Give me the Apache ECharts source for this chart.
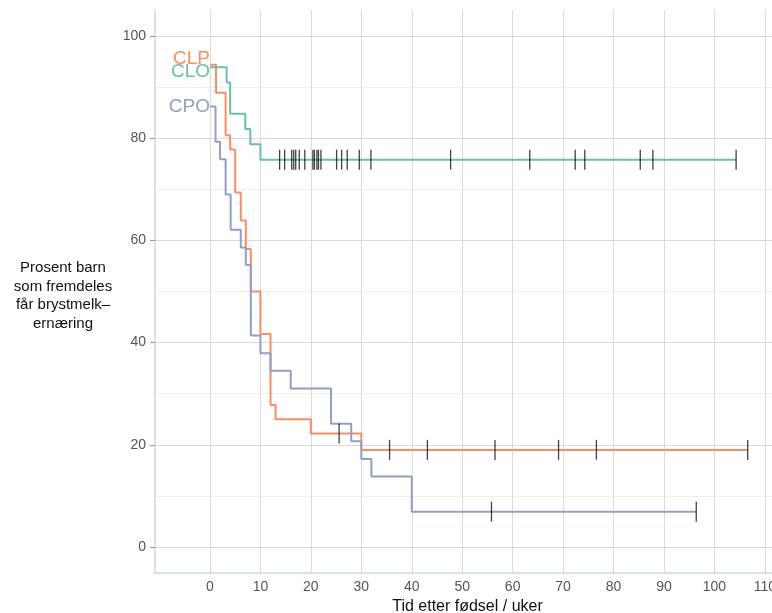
<!DOCTYPE html>
<html>
<head>
<meta charset="utf-8">
<script src="https://cdn.jsdelivr.net/npm/echarts@6/dist/echarts.min.js"></script>
<style>html,body{margin:0;padding:0;background:#fff}#c{width:772px;height:613px}</style>
</head>
<body>
<div id="c"></div>
<script>
// ---- data ----
const groupNames = ['CLP', 'CLO', 'CPO'];
const xTicks = [0, 10, 20, 30, 40, 50, 60, 70, 80, 90, 100, 110];
const yTicks = [0, 20, 40, 60, 80, 100];
const yMinor = [10, 30, 50, 70, 90];

const clpTime = [0, 1.2, 3.1, 4, 5, 6.1, 7.1, 8.1, 10, 12, 13, 20, 30, 106.6];
const clpSurv = [94.4, 88.9, 80.6, 77.8, 69.4, 63.9, 58.3, 50.0, 41.7, 27.8, 25.0, 22.2, 19.0, 19.0];
const clpCensTime = [25.6, 35.6, 43.1, 56.5, 69.1, 76.6, 106.6];
const clpCensSurv = [22.2, 19.0, 19.0, 19.0, 19.0, 19.0, 19.0];

const cloTime = [0, 3.3, 4, 7, 8, 10, 104.3];
const cloSurv = [93.9, 90.9, 84.8, 81.8, 78.8, 75.8, 75.8];
const cloCensTime = [13.8, 14.8, 16.2, 16.6, 17.0, 17.7, 18.8, 20.4, 20.7, 21.2, 21.5, 22.0, 25.1, 26.1, 27.2, 29.6, 31.9, 47.7, 63.4, 72.4, 74.3, 85.3, 87.8, 104.3];
const cloCensSurv = cloCensTime.map(() => 75.8);

const cpoTime = [0, 1.1, 2, 3.1, 4.1, 6.1, 7.1, 8.1, 10, 12, 16, 24, 28, 30, 32, 40, 96.4];
const cpoSurv = [86.2, 79.3, 75.9, 69.0, 62.1, 58.6, 55.2, 41.4, 37.9, 34.5, 31.0, 24.1, 20.7, 17.2, 13.8, 6.9, 6.9];
const cpoCensTime = [55.8, 96.4];
const cpoCensSurv = [6.9, 6.9];

// ---- styles ----
const colors = {CLP: '#fc8d62', CLO: '#66c2a5', CPO: '#8da0cb'};
const labelOffsets = {CLP: [0, -6], CLO: [0, 5], CPO: [0, 0]};
const FONT = 'Liberation Sans, Arial, sans-serif';

const zip = (a, b) => a.map((v, i) => [v, b[i]]);
const groups = {
  CLP: {t: clpTime, s: clpSurv, ct: clpCensTime, cs: clpCensSurv},
  CLO: {t: cloTime, s: cloSurv, ct: cloCensTime, cs: cloCensSurv},
  CPO: {t: cpoTime, s: cpoSurv, ct: cpoCensTime, cs: cpoCensSurv}
};

const series = [];
// grid lines drawn through the axes' scales
series.push({
  type: 'line', data: [], z: 0, silent: true,
  markLine: {
    silent: true, symbol: ['none', 'none'], label: {show: false},
    animation: false, z: 0, zlevel: 0,
    data: [
      ...yMinor.map(v => ({yAxis: v, lineStyle: {color: '#eeeeee', width: 1, type: 'solid'}})),
      ...yTicks.map(v => ({yAxis: v, lineStyle: {color: '#dadada', width: 1, type: 'solid'}})),
      ...xTicks.map(v => ({xAxis: v, lineStyle: {color: '#dadada', width: 1, type: 'solid'}}))
    ]
  }
});

groupNames.forEach(name => {
  const g = groups[name];
  series.push({
    name, type: 'line', step: 'end', z: 3,
    showSymbol: false, symbol: 'none',
    lineStyle: {color: colors[name], width: 2, opacity: 1},
    data: zip(g.t, g.s)
  });
  series.push({
    name: name + ' sensur', type: 'scatter', z: 4,
    symbol: 'rect', symbolSize: [1.3, 20],
    itemStyle: {color: '#111'},
    data: zip(g.ct, g.cs)
  });
});
groupNames.forEach(name => {
  const g = groups[name];
  series.push({
    name: name + ' label', type: 'scatter', z: 5,
    symbolSize: 0,
    data: [[g.t[0], g.s[0]]],
    label: {
      show: true, position: 'left', distance: 0, offset: labelOffsets[name],
      formatter: name, color: colors[name], opacity: 1, textBorderWidth: 0,
      fontFamily: FONT, fontSize: 19
    }
  });
});

const chart = echarts.init(document.getElementById('c'), null, {renderer: 'canvas'});
chart.setOption({
  animation: false,
  backgroundColor: '#fff',
  grid: {left: 155, right: -8, top: 10, bottom: 40, containLabel: false, outerBoundsMode: 'none'},
  xAxis: {
    type: 'value', min: -10.9, max: 113,
    axisLine: {show: true, onZero: false, lineStyle: {color: '#c6d9ee', width: 1.5}},
    axisTick: {show: false, customValues: xTicks},
    axisLabel: {customValues: xTicks, color: '#555', fontSize: 14, margin: 7, fontFamily: FONT},
    splitLine: {show: false},
    name: 'Tid etter fødsel / uker', nameLocation: 'middle', nameGap: 26,
    nameTextStyle: {color: '#111', fontSize: 16, fontFamily: FONT}
  },
  yAxis: {
    type: 'value', min: -5.1, max: 105.1,
    axisLine: {show: true, onZero: false, lineStyle: {color: '#c6d9ee', width: 1.5}},
    axisTick: {show: true, customValues: yTicks, length: 5, lineStyle: {color: '#999'}},
    axisLabel: {customValues: yTicks, color: '#555', fontSize: 14, margin: 9, fontFamily: FONT},
    splitLine: {show: false}
  },
  graphic: [{
    type: 'text', x: 63, y: 296,
    style: {
      text: 'Prosent barn\nsom fremdeles\nfår brystmelk–\nernæring',
      align: 'center', verticalAlign: 'middle', lineHeight: 18.5,
      fill: '#111', fontSize: 15, fontFamily: FONT
    }
  }],
  series
});
</script>
</body>
</html>
